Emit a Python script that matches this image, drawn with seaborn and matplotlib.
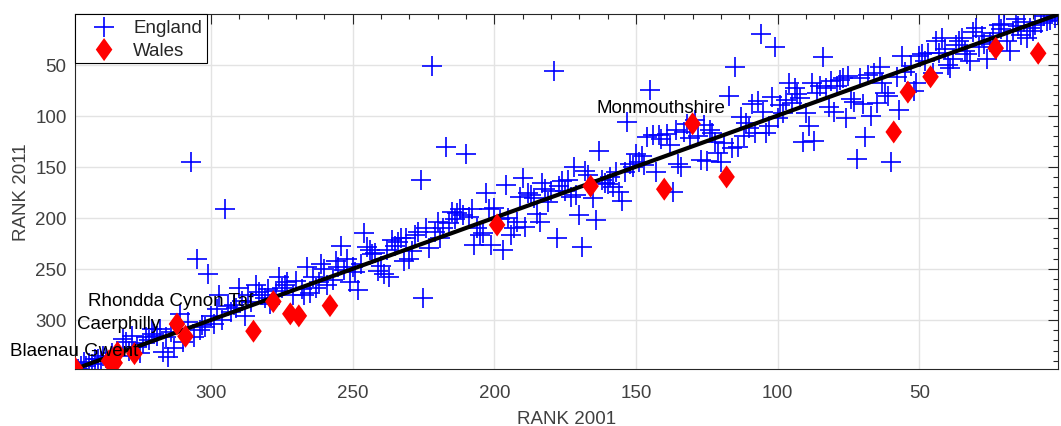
import numpy as np
import pandas as pd
import matplotlib.pyplot as plt
from matplotlib.ticker import FixedLocator, MultipleLocator
from matplotlib.markers import MarkerStyle
import seaborn as sns

# England: rank 2001 vs rank 2011
england_2001 = [
    1, 2, 3, 4, 5, 6, 7, 9, 10, 11, 12, 13, 14, 15, 16, 17, 18, 19, 20,
    21, 22, 24, 25, 26, 27, 28, 29, 30,
    31, 32, 33, 34, 35, 36, 37, 38, 39, 40, 41, 42, 43, 44, 45,
    47, 48, 49, 50, 51, 52, 53, 55, 56, 57, 58, 60, 61, 62, 63, 64, 65,
    66, 67, 68, 69, 70, 71, 72, 73, 74, 75, 76, 77, 78, 79, 80,
    81, 82, 83, 84, 85, 86, 87, 88, 89, 90, 91, 92, 93, 94, 95, 96, 97, 98, 99, 100,
    101, 102, 103, 104, 105, 106, 107, 108, 109, 110, 111, 112, 113, 114, 115, 116, 117,
    119, 120, 121, 122, 123, 124, 125, 126, 127, 128, 129,
    131, 132, 133, 134, 135, 136, 137, 138, 139,
    141, 142, 143, 144, 145, 146, 147, 148, 149, 150, 151, 152, 153, 154, 155, 156, 157,
    158, 159, 160, 161, 162, 163, 164, 165,
    167, 168, 169, 170, 171, 172, 173, 174, 175, 176, 177, 178, 179, 180, 181, 182, 183,
    184, 185, 186, 187, 188, 189, 190, 191, 192, 193, 194, 195, 196, 197, 198,
    200, 201, 202, 203, 204, 205, 206, 207, 208, 209, 210, 211, 212, 213, 214, 215, 216,
    217, 218, 219, 220, 221, 222, 223, 224, 225, 226, 227, 228, 229, 230,
    231, 232, 233, 234, 235, 236, 237, 238, 239, 240, 241, 242, 243, 244, 245, 246, 247,
    248, 249, 250, 251, 252, 253, 254, 255, 256, 257,
    259, 260, 261, 262, 263, 264, 265, 266, 267, 268, 270, 271, 273, 274, 275, 276, 277,
    279, 280, 281, 282, 283, 284,
    286, 287, 288, 289, 290, 291, 292, 293, 294, 295, 296, 297, 298, 299, 300, 301, 302,
    303, 304, 305, 306, 307, 308,
    310, 311, 313, 314, 315, 316, 317, 318, 319, 320, 321, 322, 323, 324, 325, 326, 328,
    329, 330, 331, 332, 335, 337, 338, 339, 340, 341, 342, 343, 344, 345, 346, 347,
]
england_2011 = [
    2, 4, 1, 6, 7, 3, 9, 11, 17, 14, 24, 8, 21, 12, 5, 17, 37, 27, 10,
    15, 11, 19, 28, 45, 30, 22, 33, 14,
    18, 47, 40, 37, 24, 27, 31, 45, 53, 50, 35, 24, 39, 27, 58,
    39, 47, 40, 42, 68, 76, 51, 57, 42, 95, 62, 145, 81, 78, 68, 52, 88,
    58, 100, 60, 121, 89, 63, 142, 87, 84, 61, 102, 63, 65, 71, 96,
    66, 92, 73, 43, 71, 78, 125, 68, 110, 97, 126, 83, 79, 73, 88, 68, 85, 97, 90, 102,
    33, 82, 110, 117, 96, 20, 86, 117, 89, 112, 107, 120, 101, 131, 52, 132, 81,
    127, 145, 137, 126, 117, 114, 144, 109, 143, 120, 104,
    122, 108, 116, 150, 147, 114, 175, 129, 118,
    123, 119, 155, 119, 75, 121, 148, 140, 145, 138, 150, 147, 106, 155, 184, 175, 155,
    170, 160, 167, 166, 163, 135, 202, 181,
    158, 154, 229, 197, 178, 150, 180, 163, 174, 164, 169, 220, 56, 174, 185, 172, 166,
    204, 196, 181, 178, 176, 209, 161, 180, 204, 210, 217, 200, 168, 232, 201,
    190, 227, 191, 176, 215, 217, 210, 227, 191, 199, 138, 197, 191, 195, 201, 194, 205,
    131, 210, 220, 204, 214, 51, 230, 210, 279, 163, 214, 217, 233, 240,
    220, 242, 220, 224, 228, 222, 258, 232, 255, 247, 252, 234, 235, 232, 229, 215, 245,
    271, 253, 248, 263, 240, 251, 228, 248, 242, 261,
    266, 250, 245, 263, 269, 258, 274, 248, 276, 270, 262, 276, 263, 266, 269, 258, 272,
    284, 270, 279, 276, 273, 266,
    282, 276, 296, 281, 269, 288, 285, 292, 286, 191, 300, 276, 289, 304, 296, 255, 307,
    305, 310, 240, 317, 145, 302,
    322, 294, 327, 312, 336, 317, 331, 309, 316, 314, 309, 320, 317, 323, 332, 326, 316,
    330, 322, 319, 335, 332, 337, 335, 340, 338, 338, 343, 342, 345, 341, 345, 348,
]

# Wales
wales_2001 = [348, 336, 334, 333, 327, 312, 309, 285, 278, 272, 269, 258,
              199, 166, 140, 130, 118, 59, 54, 46, 23, 8]
wales_2011 = [347, 340, 342, 332, 333, 304, 316, 311, 282, 294, 296, 286,
              207, 169, 172, 108, 160, 116, 77, 62, 34, 39]

# labelled Welsh authorities
label_names = ['Blaenau Gwent', 'Caerphilly', 'Rhondda Cynon Taf', 'Monmouthshire']
label_2001 = [348.3, 332.5, 314.1, 141.0]
label_2011 = [330, 303, 281, 92]

# reference line (no change in rank)
line_2001 = [348, 1]
line_2011 = [348, 1]

sns.set_style('white')
plt.rcParams['font.family'] = ['Liberation Sans', 'DejaVu Sans']

eng = pd.DataFrame({'rank_2001': england_2001, 'rank_2011': england_2011})
wal = pd.DataFrame({'rank_2001': wales_2001, 'rank_2011': wales_2011})

fig, ax = plt.subplots(figsize=(10.61, 4.27), dpi=100)
fig.subplots_adjust(left=0.0707, right=0.9972, top=0.965, bottom=0.1335)

diamond = MarkerStyle([(0, 1), (0.72, 0), (0, -1), (-0.72, 0), (0, 1)])

sns.scatterplot(data=eng, x='rank_2001', y='rank_2011', marker='+', color='#0000ff',
                s=190, linewidth=1.2, label='England', ax=ax, zorder=2)
sns.lineplot(x=line_2001, y=line_2011, color='black', linewidth=3, ax=ax, zorder=3)
sns.scatterplot(data=wal, x='rank_2001', y='rank_2011', marker=diamond, color='#ff0000',
                edgecolor='none', s=275, linewidth=0, label='Wales', ax=ax, zorder=4)

for name, lx, ly in zip(label_names, label_2001, label_2011):
    ax.text(lx, ly, name, ha='center', va='center', fontsize=13.5, color='black', zorder=5)

ax.set_xlim(348, 1)
ax.set_ylim(348, 0.5)
ax.xaxis.set_major_locator(FixedLocator([50, 100, 150, 200, 250, 300]))
ax.yaxis.set_major_locator(FixedLocator([50, 100, 150, 200, 250, 300]))
ax.xaxis.set_minor_locator(MultipleLocator(10))
ax.yaxis.set_minor_locator(MultipleLocator(10))

ax.tick_params(which='both', direction='in', top=True, right=True, width=0.8,
               color='#262626', labelcolor='#404040', labelsize=13.5)
ax.tick_params(which='major', length=7)
ax.tick_params(which='minor', length=3.5)
ax.tick_params(axis='x', pad=11)
ax.tick_params(axis='y', pad=6)

ax.grid(True, which='major', color='#e3e3e3', linewidth=1)
ax.set_axisbelow(True)
for sp in ax.spines.values():
    sp.set_visible(True)
    sp.set_color('#262626')
    sp.set_linewidth(0.8)

ax.set_xlabel('RANK 2001', fontsize=13.5, color='#404040', labelpad=6)
ax.set_ylabel('RANK 2011', fontsize=13.5, color='#404040', labelpad=4)

leg = ax.legend(loc='upper left', borderaxespad=0, frameon=True, fancybox=False,
                edgecolor='black', framealpha=1, borderpad=0.25, labelspacing=0.3,
                handlelength=2.6, handletextpad=0.25, fontsize=13.5)
leg.get_frame().set_linewidth(0.8)

fig.savefig('out.png', dpi=100)
